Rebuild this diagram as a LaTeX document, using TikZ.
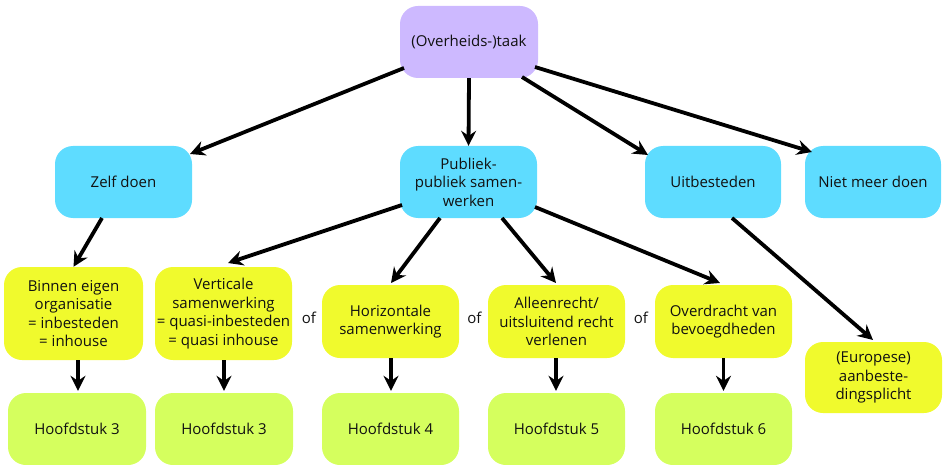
\documentclass[tikz,border=0pt]{standalone}
\usepackage{fontspec}
\setmainfont{Open Sans}
\usetikzlibrary{arrows.meta}
\definecolor{lav}{HTML}{CDB9FF}
\definecolor{cyanbox}{HTML}{5EDCFF}
\definecolor{yelbox}{HTML}{F0FA2D}
\definecolor{grnbox}{HTML}{D5FF5E}
\definecolor{txt}{HTML}{111111}
\begin{document}
\begin{tikzpicture}[x=1pt,y=-1pt,
  box/.style={rounded corners=18pt, align=center, font=\fontsize{15}{18.5}\selectfont,
    text=txt, inner sep=0pt, minimum width=137pt, minimum height=72pt},
  lavbox/.style={box, fill=lav, minimum width=138pt},
  cbox/.style={box, fill=cyanbox},
  ybox/.style={box, fill=yelbox, minimum height=73pt},
  ytall/.style={ybox, minimum height=93pt},
  gbox/.style={box, fill=grnbox, minimum width=138pt},
  ofl/.style={font=\fontsize{15}{18}\selectfont, text=txt, inner sep=0pt},
  arr/.style={line width=3.8pt, -{Stealth[length=15pt,width=15pt,inset=5pt]}},
]
\useasboundingbox (0,0) rectangle (944,465);

\node[lavbox] (top) at (469,42) {(Overheids-)taak};

\node[cbox] (zelf) at (123.5,182) {Zelf doen};
\node[cbox] (pub) at (468.5,182) {Publiek-\\publiek samen-\\werken};
\node[cbox, minimum width=136pt] (uit) at (713,182) {Uitbesteden};
\node[cbox, minimum width=136pt] (niet) at (873,182) {Niet meer doen};

\node[ytall, minimum width=139pt] (binnen) at (73.5,313.5) {Binnen eigen\\organisatie\\= inbesteden\\= inhouse};
\node[ytall] (vert) at (223.5,313.5) {Verticale\\samenwerking\\= quasi-inbesteden\\= quasi inhouse};
\node[ybox] (hor) at (390.5,321.5) {Horizontale\\samenwerking};
\node[ybox] (all) at (556.5,321.5) {Alleenrecht/\\uitsluitend recht\\verlenen};
\node[ybox] (ovr) at (723.5,321.5) {Overdracht van\\bevoegdheden};
\node[ybox, minimum height=71pt] (eur) at (873.5,377.5) {(Europese)\\aanbeste-\\dingsplicht};

\node[gbox] (h1) at (77,429) {Hoofdstuk 3};
\node[gbox] (h2) at (224,429) {Hoofdstuk 3};
\node[gbox, minimum width=137pt] (h3) at (390.5,429) {Hoofdstuk 4};
\node[gbox, minimum width=137pt] (h4) at (556.5,429) {Hoofdstuk 5};
\node[gbox, minimum width=137pt] (h5) at (723.5,429) {Hoofdstuk 6};

\node[ofl] (of1) at (309,318) {of};
\node[ofl] (of2) at (474.5,318) {of};
\node[ofl] (of3) at (641,318) {of};

\draw[arr] ([shift={(-65,26)}]top.center) -- ([shift={(66.5,-28)}]zelf.center);
\draw[arr] (top.south) -- (pub.north);
\draw[arr] ([shift={(53,35)}]top.center) -- ([shift={(-65,-27)}]uit.center);
\draw[arr] ([shift={(66,25)}]top.center) -- ([shift={(-61,-30)}]niet.center);

\draw[arr] ([shift={(-21.5,36)}]zelf.center) -- (binnen.north);

\draw[arr] ([shift={(-66.5,23)}]pub.center) -- ([shift={(4.5,-50.5)}]vert.center);
\draw[arr] ([shift={(-28.5,36)}]pub.center) -- ([shift={(0.5,-38.5)}]hor.center);
\draw[arr] ([shift={(33.5,36)}]pub.center) -- ([shift={(-0.5,-38.5)}]all.center);
\draw[arr] ([shift={(66.5,25)}]pub.center) -- ([shift={(-3.5,-38.5)}]ovr.center);

\draw[arr] ([shift={(19,36)}]uit.center) -- ([shift={(-0.5,-37.5)}]eur.center);

\draw[arr] (binnen.south -| h1.north) ++(1,0) -- ([shift={(1,-2)}]h1.north);
\draw[arr] (vert.south -| h2.north) -- ([shift={(0,-2)}]h2.north);
\draw[arr] (hor.south -| h3.north) ++(0.5,0) -- ([shift={(0.5,-2)}]h3.north);
\draw[arr] (all.south -| h4.north) ++(-0.5,0) -- ([shift={(-0.5,-2)}]h4.north);
\draw[arr] (ovr.south -| h5.north) -- ([shift={(0,-2)}]h5.north);
\end{tikzpicture}
\end{document}
